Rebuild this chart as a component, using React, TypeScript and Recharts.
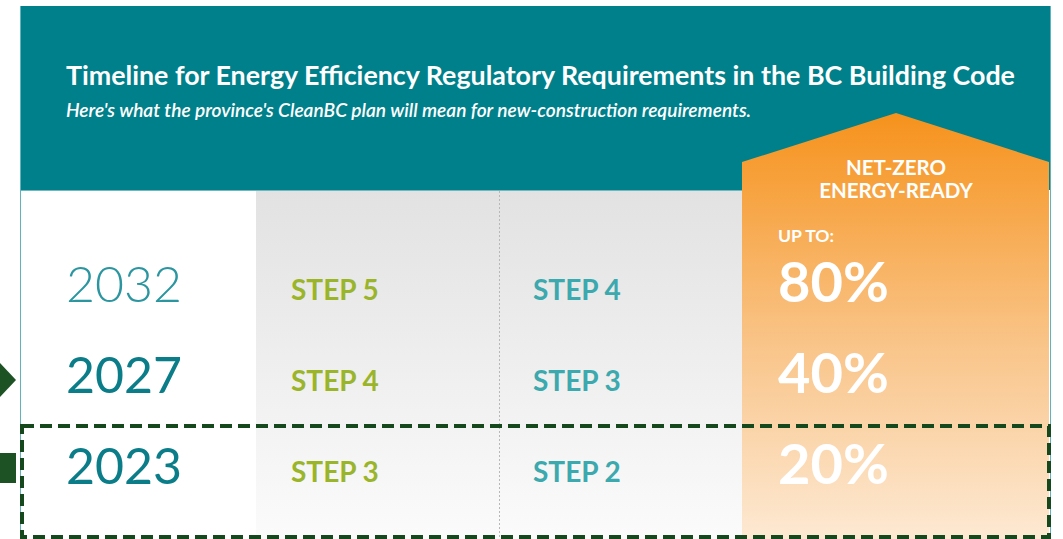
import React from "react";
import { Bar, ComposedChart, Customized, LabelList, XAxis, YAxis } from "recharts";

const years = ["2032", "2027", "2023"];
const partNineSteps = ["STEP 5", "STEP 4", "STEP 3"];
const partThreeSteps = ["STEP 4", "STEP 3", "STEP 2"];
const savings = [80, 40, 20];

const title = "Timeline for Energy Efficiency Regulatory Requirements in the BC Building Code";
const subtitle = "Here's what the province's CleanBC plan will mean for new-construction requirements.";
const badge = ["NET-ZERO", "ENERGY-READY"];
const savingsPrefix = "UP TO:";

const rows = years.map((year, i) => ({
  year,
  partNine: partNineSteps[i],
  partThree: partThreeSteps[i],
  pct: savings[i],
}));

const FONT = "Lato, 'Open Sans', sans-serif";
const TEAL = "#00808a";
const DARK_GREEN = "#15481c";

// column text x positions
const COL_YEAR = 66;
const COL_PART9 = 291;
const COL_PART3 = 533;
const COL_PCT = 778;

function rowCenter(props: any) {
  const vb = props.viewBox ?? props;
  return Number(vb.y) + Number(vb.height) / 2;
}

function YearTick(props: any) {
  const { y, payload, index } = props;
  const first = index === 0;
  return (
    <text
      x={COL_YEAR}
      y={y + 19}
      fontFamily={FONT}
      fontSize={50}
      fontWeight={first ? 300 : 400}
      fill={first ? "#2b96a0" : "#0b7d89"}
    >
      {payload.value}
    </text>
  );
}

function StepLabel(x: number, color: string) {
  return (props: any) => (
    <text x={x} y={rowCenter(props) + 17} fontFamily={FONT} fontSize={28} fontWeight={700} fill={color}>
      {props.value}
    </text>
  );
}

function PctLabel(props: any) {
  const cy = rowCenter(props);
  return (
    <g>
      {props.index === 0 && (
        <text x={COL_PCT} y={cy - 41} fontFamily={FONT} fontSize={17.6} fontWeight={700} fill="#fff">
          {savingsPrefix}
        </text>
      )}
      <text x={COL_PCT} y={cy + 19} fontFamily={FONT} fontSize={56} fontWeight={700} fill="#fff">
        {props.value}%
      </text>
    </g>
  );
}

function Backdrop() {
  return (
    <g>
      <defs>
        <linearGradient id="grayFade" x1="0" y1="0" x2="0" y2="1">
          <stop offset="0%" stopColor="#e2e2e2" />
          <stop offset="100%" stopColor="#fbfbfb" />
        </linearGradient>
        <linearGradient id="orangeFade" x1="0" y1="0" x2="0" y2="1">
          <stop offset="0%" stopColor="#f6921c" />
          <stop offset="55%" stopColor="#f9c58a" />
          <stop offset="100%" stopColor="#fde9d3" />
        </linearGradient>
      </defs>
      <rect x={0} y={0} width={1063} height={539} fill="#fff" />
      <rect x={20} y={6} width={1031} height={184} fill={TEAL} />
      <rect x={256} y={190} width={486} height={349} fill="url(#grayFade)" />
      <line x1={20} y1={190.5} x2={742} y2={190.5} stroke="#6fb8bf" strokeWidth={1} />
      <line x1={499.5} y1={191} x2={499.5} y2={539} stroke="#b8b8b8" strokeWidth={1} strokeDasharray="2 2" />
      <polygon points="742,162 896,113 1049,162 1049,539 742,539" fill="url(#orangeFade)" />
      <line x1={20.5} y1={6} x2={20.5} y2={539} stroke="#5fb3bd" strokeWidth={1} />
      <line x1={1050.5} y1={6} x2={1050.5} y2={539} stroke="#5fb3bd" strokeWidth={1} />
      <rect
        x={22}
        y={426}
        width={1027}
        height={111}
        fill="none"
        stroke={DARK_GREEN}
        strokeWidth={4}
        strokeDasharray="12 6"
      />
      <polygon points="0,363 16,380 0,397" fill="#1d5224" />
      <rect x={0} y={453} width={16} height={30} fill="#1d5224" />
      <text x={66} y={85} fontFamily={FONT} fontSize={26.8} fontWeight={700} fill="#fff">
        {title}
      </text>
      <text x={66} y={117} fontFamily={FONT} fontSize={19.1} fontStyle="italic" fontWeight={600} fill="#fff">
        {subtitle}
      </text>
      {badge.map((line, i) => (
        <text
          key={line}
          x={896}
          y={175 + i * 23}
          textAnchor="middle"
          fontFamily={FONT}
          fontSize={20.5}
          fontWeight={700}
          fill="#fff"
        >
          {line}
        </text>
      ))}
    </g>
  );
}

export default function App() {
  return (
    <div style={{ position: "absolute", left: 0, top: 0, width: 1063, height: 539 }}>
      <ComposedChart
        width={1063}
        height={539}
        data={rows}
        layout="vertical"
        margin={{ top: 237, right: 12, bottom: 29, left: 20 }}
      >
        <Customized component={<Backdrop />} />
        <XAxis type="number" domain={[0, 100]} hide />
        <YAxis
          type="category"
          dataKey="year"
          width={236}
          axisLine={false}
          tickLine={false}
          tick={<YearTick />}
        />
        <Bar dataKey="pct" fill="transparent" isAnimationActive={false}>
          <LabelList dataKey="partNine" content={StepLabel(COL_PART9, "#9bb52b")} />
          <LabelList dataKey="partThree" content={StepLabel(COL_PART3, "#3ba9ae")} />
          <LabelList dataKey="pct" content={PctLabel} />
        </Bar>
      </ComposedChart>
    </div>
  );
}
